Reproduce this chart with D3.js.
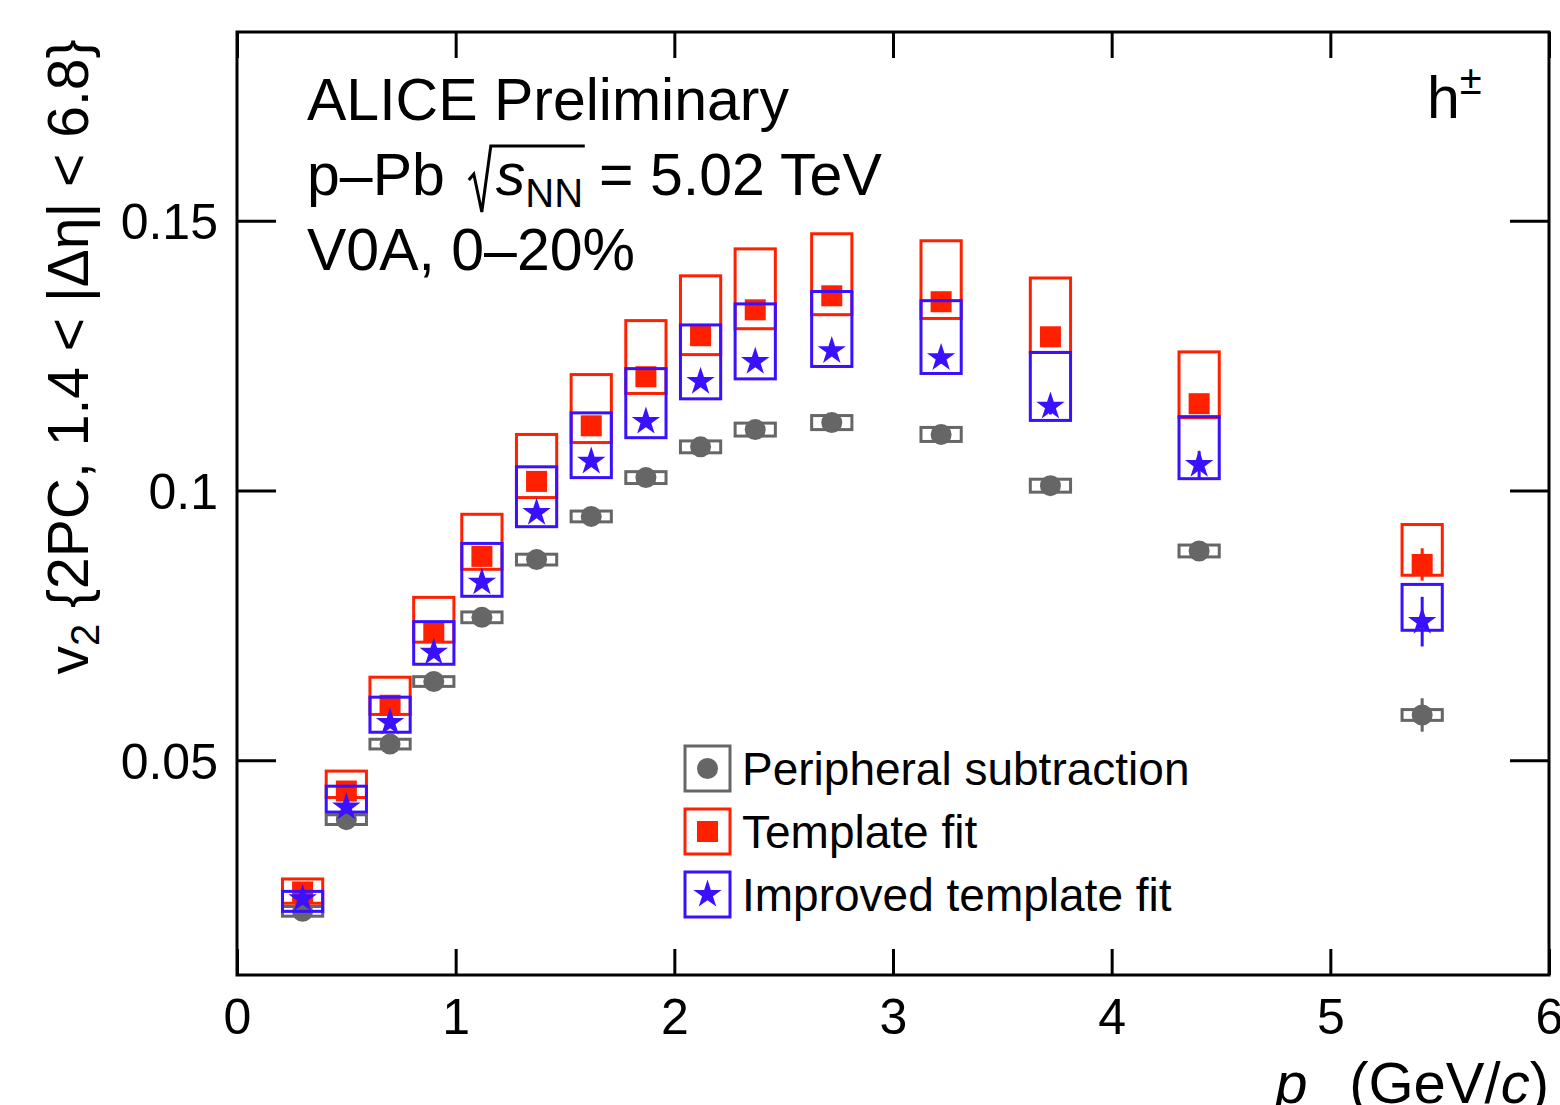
<!DOCTYPE html>
<html>
<head>
<meta charset="utf-8">
<script src="https://cdn.jsdelivr.net/npm/d3@7"></script>
<style>
  body { margin: 0; background: #fff; }
  svg { font-family: "Liberation Sans", Arial, sans-serif; }
</style>
</head>
<body>
<svg id="chart" width="1560" height="1105"></svg>
<script>
// pT bin positions (GeV/c)
var pt = [0.30, 0.50, 0.70, 0.90, 1.12, 1.37, 1.62, 1.87, 2.12, 2.37, 2.72, 3.22, 3.72, 4.40, 5.42];

// peripheral subtraction
var periph     = [0.0220, 0.0390, 0.0530, 0.0646, 0.0765, 0.0872, 0.0952, 0.1024, 0.1081, 0.1113, 0.1126, 0.1104, 0.1009, 0.0888, 0.0584];
var periphStat = [0.0003, 0.0003, 0.0003, 0.0003, 0.0004, 0.0004, 0.0004, 0.0005, 0.0005, 0.0006, 0.0006, 0.0008, 0.0010, 0.0013, 0.0031];
var periphSys  = [0.0009, 0.0009, 0.0009, 0.0009, 0.0010, 0.0010, 0.0010, 0.0011, 0.0011, 0.0012, 0.0013, 0.0013, 0.0012, 0.0011, 0.0010];

// template fit
var templ      = [0.0256, 0.0443, 0.0602, 0.0737, 0.0878, 0.1017, 0.1120, 0.1211, 0.1287, 0.1335, 0.1361, 0.1350, 0.1285, 0.1161, 0.0863];
var templStat  = [0.0003, 0.0003, 0.0004, 0.0004, 0.0005, 0.0005, 0.0005, 0.0006, 0.0006, 0.0007, 0.0007, 0.0009, 0.0011, 0.0014, 0.0030];
var templSysHi = [0.0024, 0.0037, 0.0052, 0.0065, 0.0078, 0.0087, 0.0095, 0.0104, 0.0111, 0.0113, 0.0115, 0.0113, 0.0109, 0.0096, 0.0074];
var templSysLo = [0.0021, 0.0012, 0.0017, 0.0018, 0.0024, 0.0030, 0.0031, 0.0031, 0.0035, 0.0035, 0.0035, 0.0031, 0.0029, 0.0026, 0.0020];

// improved template fit
var impr       = [0.0243, 0.0413, 0.0570, 0.0700, 0.0830, 0.0959, 0.1054, 0.1128, 0.1202, 0.1239, 0.1259, 0.1246, 0.1156, 0.1048, 0.0757];
var imprStat   = [0.0004, 0.0004, 0.0004, 0.0005, 0.0005, 0.0006, 0.0006, 0.0007, 0.0008, 0.0008, 0.0009, 0.0011, 0.0015, 0.0025, 0.0046];
var imprSysHi  = [0.0014, 0.0039, 0.0047, 0.0057, 0.0072, 0.0085, 0.0090, 0.0098, 0.0105, 0.0107, 0.0110, 0.0106, 0.0100, 0.0089, 0.0069];
var imprSysLo  = [0.0023, 0.0009, 0.0018, 0.0022, 0.0026, 0.0026, 0.0030, 0.0030, 0.0032, 0.0032, 0.0029, 0.0029, 0.0026, 0.0026, 0.0016];

var xTicks = [0, 1, 2, 3, 4, 5, 6];
var yTicks = [0.05, 0.1, 0.15];
var legendLabels = ["Peripheral subtraction", "Template fit", "Improved template fit"];

var GRAY = "#666666", RED = "#ff2000", BLUE = "#3a10ff";
var boxHalf = 0.092;   // half width of systematic boxes in pT

var svg = d3.select("#chart");
var x = d3.scaleLinear().domain([0, 6]).range([237, 1549]);
var y = d3.scaleLinear().domain([0.0102, 0.185]).range([975, 32]);

function fmt(d) { return d === 0.1 ? "0.1" : d3.format("")(d); }

// axes, ROOT style ticks pointing inside
var axB = svg.append("g").attr("transform", "translate(0,975)")
    .call(d3.axisBottom(x).tickValues(xTicks).tickSize(-26).tickPadding(23).tickFormat(d3.format("d")));
var axT = svg.append("g").attr("transform", "translate(0,32)")
    .call(d3.axisTop(x).tickValues(xTicks).tickSize(-26).tickFormat(""));
var axL = svg.append("g").attr("transform", "translate(237,0)")
    .call(d3.axisLeft(y).tickValues(yTicks).tickSize(-39).tickPadding(19).tickFormat(fmt));
var axR = svg.append("g").attr("transform", "translate(1549,0)")
    .call(d3.axisRight(y).tickValues(yTicks).tickSize(-39).tickFormat(""));

[axB, axT, axL, axR].forEach(function(a) {
    a.select(".domain").remove();
    a.selectAll(".tick line").attr("stroke", "#000").attr("stroke-width", 3);
    a.selectAll(".tick text").attr("font-size", 50).attr("fill", "#000")
	.attr("font-family", "Liberation Sans, Arial, sans-serif");
});
axL.selectAll(".tick text").attr("dy", "0.36em");

svg.append("rect")
    .attr("x", 237).attr("y", 32)
    .attr("width", 1549 - 237).attr("height", 975 - 32)
    .attr("fill", "none").attr("stroke", "#000").attr("stroke-width", 3);

// build series rows
function rows(vals, stat, lo, hi) {
    return pt.map(function(p, i) {
	return {pt: p, v: vals[i], stat: stat[i], lo: lo[i], hi: hi[i]};
    });
}
var series = [
    {name: "periph", color: GRAY, data: rows(periph, periphStat, periphSys, periphSys)},
    {name: "templ", color: RED, data: rows(templ, templStat, templSysLo, templSysHi)},
    {name: "impr", color: BLUE, data: rows(impr, imprStat, imprSysLo, imprSysHi)}
];

var star = d3.symbol().type(d3.symbolStar).size(250);

function drawMarker(sel, name, color) {
    if (name === "periph") {
	sel.append("circle").attr("r", 10.5).attr("fill", color);
    } else if (name === "templ") {
	sel.append("rect").attr("x", -10.5).attr("y", -10.5)
	    .attr("width", 21).attr("height", 21).attr("fill", color);
    } else {
	sel.append("path").attr("d", star).attr("fill", color);
    }
}

var plot = svg.append("g");
series.forEach(function(s) {
    var g = plot.append("g").attr("class", s.name);
    // systematic boxes
    g.selectAll(".sys")
	.data(s.data)
	.enter().append("rect")
	.attr("class", "sys")
	.attr("x", d => x(d.pt - boxHalf))
	.attr("width", d => x(d.pt + boxHalf) - x(d.pt - boxHalf))
	.attr("y", d => y(d.v + d.hi))
	.attr("height", d => y(d.v - d.lo) - y(d.v + d.hi))
	.attr("fill", "none")
	.attr("stroke", s.color)
	.attr("stroke-width", 3);
    // stat error bars
    g.selectAll(".stat")
	.data(s.data)
	.enter().append("line")
	.attr("class", "stat")
	.attr("x1", d => x(d.pt)).attr("x2", d => x(d.pt))
	.attr("y1", d => y(d.v - d.stat)).attr("y2", d => y(d.v + d.stat))
	.attr("stroke", s.color)
	.attr("stroke-width", 3);
    // markers
    g.selectAll(".mk")
	.data(s.data)
	.enter().append("g")
	.attr("class", "mk")
	.attr("transform", d => "translate(" + x(d.pt) + "," + y(d.v) + ")")
	.each(function() { drawMarker(d3.select(this), s.name, s.color); });
});

// legend
var leg = svg.append("g");
series.forEach(function(s, i) {
    var cy = 768 + i * 63;
    leg.append("rect").attr("x", 685).attr("y", cy - 22)
	.attr("width", 45).attr("height", 45)
	.attr("fill", "none").attr("stroke", s.color).attr("stroke-width", 3);
    var m = leg.append("g").attr("transform", "translate(707.5," + (cy + 0.5) + ")");
    drawMarker(m, s.name, s.color);
    leg.append("text").attr("x", 742).attr("y", cy + 17)
	.attr("font-size", 46).text(legendLabels[i]);
});

// header texts
var hdr = svg.append("g").attr("font-size", 59).attr("fill", "#000");
hdr.append("text").attr("x", 307).attr("y", 120).text("ALICE Preliminary");

var t1 = hdr.append("text").attr("x", 307).attr("y", 195).text("p\u2013Pb");
var w1 = t1.node().getComputedTextLength();
var rx = 307 + w1 + 24;
// radical sign
hdr.append("path")
    .attr("d", "M" + rx + "," + 180 + " L" + (rx + 5) + "," + 174 + " L" + (rx + 13) + "," + 212 +
	  " L" + (rx + 22) + "," + 146 + " L" + (rx + 116) + "," + 146)
    .attr("fill", "none").attr("stroke", "#000").attr("stroke-width", 3);
var t2 = hdr.append("text").attr("x", rx + 27).attr("y", 195);
t2.append("tspan").attr("font-style", "italic").text("s");
t2.append("tspan").attr("font-size", 40).attr("dy", 12).text("NN");
var w2 = t2.node().getComputedTextLength();
hdr.append("text").attr("x", rx + 27 + w2 + 16).attr("y", 195).text("= 5.02 TeV");

hdr.append("text").attr("x", 307).attr("y", 270).text("V0A, 0\u201320%");

var h = hdr.append("text").attr("x", 1427).attr("y", 118);
h.append("tspan").text("h");
h.append("tspan").attr("font-size", 40).attr("dy", -24).text("\u00b1");

// axis titles
var yt = svg.append("text")
    .attr("transform", "translate(88,357) rotate(-90)")
    .attr("text-anchor", "middle")
    .attr("font-size", 57);
yt.append("tspan").text("v");
yt.append("tspan").attr("font-size", 40).attr("dy", 11).text("2");
yt.append("tspan").attr("dy", -11).text(" {2PC, 1.4 < |\u0394\u03b7| < 6.8}");

var xt = svg.append("text")
    .attr("x", 1549).attr("y", 1103)
    .attr("text-anchor", "end")
    .attr("font-size", 58);
xt.append("tspan").attr("font-style", "italic").text("p");
xt.append("tspan").attr("font-size", 42).attr("dy", 34).text("T");
xt.append("tspan").attr("dy", -34).text(" (GeV/");
xt.append("tspan").attr("font-style", "italic").text("c");
xt.append("tspan").text(")");
</script>
</body>
</html>
